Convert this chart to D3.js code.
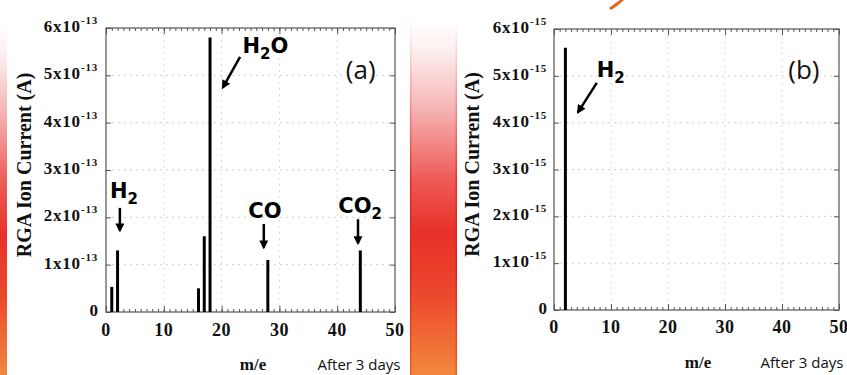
<!DOCTYPE html>
<html>
<head>
<meta charset="utf-8">
<script src="https://cdn.jsdelivr.net/npm/d3@7"></script>
<style>
  body { margin: 0; background: #fff; }
  .tick-lbl { font-family: "Liberation Serif", "Times New Roman", serif; font-weight: bold; fill: #111; }
  .note { font-family: "DejaVu Sans", Verdana, sans-serif; font-weight: bold; fill: #000; }
  .plain { font-family: "Open Sans", "DejaVu Sans", sans-serif; font-weight: normal; fill: #111; }
</style>
</head>
<body>
<svg id="chart" width="847" height="375"></svg>
<script>
// RGA peaks, panel (a)
const massA = [1, 2, 16, 17, 18, 28, 44];
const currentA = [0.53e-13, 1.3e-13, 0.5e-13, 1.6e-13, 5.8e-13, 1.1e-13, 1.3e-13];
// panel (b)
const massB = [2];
const currentB = [5.6e-15];

const xTicks = [0, 10, 20, 30, 40, 50];
const yTickSteps = [0, 1, 2, 3, 4, 5, 6];
const yTitle = "RGA Ion Current (A)";
const xTitle = "m/e";
const noteText = "After 3 days";

const svg = d3.select("#chart");

// background strips (slide decoration)
const defs = svg.append("defs");
function vGrad(id, stops) {
  const gr = defs.append("linearGradient").attr("id", id)
    .attr("x1", 0).attr("y1", 0).attr("x2", 0).attr("y2", 1);
  stops.forEach(function (s) {
    gr.append("stop").attr("offset", s[0]).attr("stop-color", s[1]);
  });
}
vGrad("strip", [[0, "#ffffff"], [0.08, "#fdf0f0"], [0.25, "#f6b4b4"], [0.45, "#ee5a55"],
  [0.6, "#e8302a"], [0.78, "#ec4a2c"], [1, "#f3873e"]]);
vGrad("edge", [[0, "#ffffff"], [0.2, "#f4a0a0"], [0.45, "#e0302c"], [0.7, "#d8201c"], [1, "#e8602a"]]);

svg.append("rect").attr("x", 0).attr("y", 25).attr("width", 7).attr("height", 350).attr("fill", "url(#strip)");
svg.append("rect").attr("x", 410).attr("y", 20).attr("width", 47).attr("height", 355).attr("fill", "url(#strip)");
svg.append("rect").attr("x", 410).attr("y", 20).attr("width", 1.5).attr("height", 355).attr("fill", "url(#edge)");
svg.append("rect").attr("x", 455.5).attr("y", 20).attr("width", 1.5).attr("height", 355).attr("fill", "url(#edge)");
svg.append("path").attr("d", "M609,8 Q614,4 620,0 L624,0 Q618,6 611,10 Z").attr("fill", "#e8641e");

// arrow head
defs.append("marker").attr("id", "head")
  .attr("viewBox", "0 0 10 10").attr("refX", 8).attr("refY", 5)
  .attr("markerWidth", 9).attr("markerHeight", 9)
  .attr("markerUnits", "userSpaceOnUse").attr("orient", "auto")
  .append("path").attr("d", "M0,0L10,5L0,10Z").attr("fill", "#000");

function drawPanel(p) {
  const x = d3.scaleLinear().domain([0, 50]).range([p.left, p.right]);
  const y = d3.scaleLinear().domain([0, 6 * p.unit]).range([p.bottom, p.top]);
  const g = svg.append("g");

  // dotted grid
  g.selectAll(".hgrid").data(yTickSteps.slice(1, 6)).enter().append("line")
    .attr("x1", p.left).attr("x2", p.right)
    .attr("y1", d => y(d * p.unit)).attr("y2", d => y(d * p.unit))
    .attr("stroke", "#cfcfcf").attr("stroke-dasharray", "2,4");
  g.selectAll(".vgrid").data(xTicks.slice(1, 5)).enter().append("line")
    .attr("y1", p.top).attr("y2", p.bottom)
    .attr("x1", d => x(d)).attr("x2", d => x(d))
    .attr("stroke", "#dcdcdc").attr("stroke-dasharray", "2,4");

  // axes with inward ticks
  const minor = d3.range(0, 51);
  g.append("g").attr("transform", "translate(0," + p.bottom + ")")
    .call(d3.axisTop(x).tickValues(minor).tickSize(3).tickFormat(""));
  g.append("g").attr("transform", "translate(0," + p.top + ")")
    .call(d3.axisBottom(x).tickValues(minor).tickSize(3).tickFormat(""));
  g.append("g").attr("transform", "translate(0," + p.bottom + ")")
    .call(d3.axisTop(x).tickValues(xTicks).tickSize(6).tickFormat(""));
  g.append("g").attr("transform", "translate(0," + p.top + ")")
    .call(d3.axisBottom(x).tickValues(xTicks).tickSize(6).tickFormat(""));
  const yv = yTickSteps.map(d => d * p.unit);
  g.append("g").attr("transform", "translate(" + p.left + ",0)")
    .call(d3.axisRight(y).tickValues(yv).tickSize(5).tickFormat(""));
  g.append("g").attr("transform", "translate(" + p.right + ",0)")
    .call(d3.axisLeft(y).tickValues(yv).tickSize(5).tickFormat(""));
  g.selectAll(".domain").remove();
  g.selectAll(".tick line").attr("stroke", "#555");

  g.append("rect").attr("x", p.left).attr("y", p.top)
    .attr("width", p.right - p.left).attr("height", p.bottom - p.top)
    .attr("fill", "none").attr("stroke", "#555").attr("stroke-width", 1.2);

  // x tick labels
  g.selectAll(".xl").data(xTicks).enter().append("text")
    .attr("class", "tick-lbl").attr("font-size", 18)
    .attr("x", d => x(d)).attr("y", p.tickBase).attr("text-anchor", "middle")
    .attr("letter-spacing", 0.5)
    .text(d => d);

  // y tick labels with superscript exponent
  yTickSteps.forEach(function (d) {
    const t = g.append("text").attr("class", "tick-lbl").attr("font-size", 17)
      .attr("x", p.yLabelEnd).attr("y", y(d * p.unit) + 4).attr("text-anchor", "end")
      .attr("letter-spacing", d === 0 ? 0 : 0.8);
    if (d === 0) { t.text("0"); return; }
    t.append("tspan").text(d + "x10");
    t.append("tspan").attr("font-size", 11).attr("dy", -8).text(p.exp);
  });

  g.append("text").attr("class", "tick-lbl").attr("font-size", 20)
    .attr("transform", "translate(" + p.yTitleX + "," + ((p.top + p.bottom) / 2 - 5) + ") rotate(-90)")
    .attr("text-anchor", "middle").attr("dy", "0.35em").text(yTitle);
  g.append("text").attr("class", "tick-lbl").attr("font-size", 17)
    .attr("x", p.meX).attr("y", p.footBase).attr("text-anchor", "middle").text(xTitle);
  g.append("text").attr("class", "plain").attr("font-size", 15)
    .attr("x", p.afterX).attr("y", p.footBase).attr("text-anchor", "middle")
    .text(noteText);

  // peaks
  g.selectAll(".bar").data(p.mass).enter().append("line")
    .attr("x1", d => x(d)).attr("x2", d => x(d))
    .attr("y1", y(0)).attr("y2", (d, i) => y(p.current[i]))
    .attr("stroke", "#000").attr("stroke-width", 3);

  // annotations
  p.labels.forEach(function (l) {
    const t = g.append("text").attr("class", l.plain ? "plain" : "note").attr("font-size", l.size || 21)
      .attr("x", x(l.x)).attr("y", y(l.y * p.unit)).attr("text-anchor", l.anchor || "start");
    t.append("tspan").text(l.text);
    if (l.sub) t.append("tspan").attr("font-size", 15).attr("dy", 6).text(l.sub);
    if (l.after) t.append("tspan").attr("dy", -6).text(l.after);
  });
  p.arrows.forEach(function (a) {
    g.append("line")
      .attr("x1", x(a[0])).attr("y1", y(a[1] * p.unit))
      .attr("x2", x(a[2])).attr("y2", y(a[3] * p.unit))
      .attr("stroke", "#000").attr("stroke-width", 2.5)
      .attr("marker-end", "url(#head)");
  });
}

drawPanel({
  left: 106, right: 395, top: 28, bottom: 312, unit: 1e-13, exp: "-13",
  yLabelEnd: 98, yTitleX: 24, tickBase: 336, meX: 253, afterX: 359, footBase: 370,
  mass: massA, current: currentA,
  labels: [
    { text: "H", sub: "2", x: 0.7, y: 2.41 },
    { text: "H", sub: "2", after: "O", x: 23.6, y: 5.47 },
    { text: "CO", x: 27.5, y: 1.99, anchor: "middle" },
    { text: "CO", sub: "2", x: 40.2, y: 2.09 },
    { text: "(a)", x: 41.5, y: 4.92, size: 26, plain: true }
  ],
  arrows: [[2.4, 2.2, 2.4, 1.72], [23.2, 5.39, 20.2, 4.74], [27.3, 1.86, 27.3, 1.36], [43.6, 1.96, 43.6, 1.45]]
});

drawPanel({
  left: 554, right: 839, top: 29, bottom: 310, unit: 1e-15, exp: "-15",
  yLabelEnd: 547, yTitleX: 472, tickBase: 333, meX: 698, afterX: 802, footBase: 368,
  mass: massB, current: currentB,
  labels: [
    { text: "H", sub: "2", x: 7.5, y: 4.98 },
    { text: "(b)", x: 41.1, y: 4.93, size: 26, plain: true }
  ],
  arrows: [[7.5, 4.85, 4.2, 4.22]]
});
</script>
</body>
</html>
